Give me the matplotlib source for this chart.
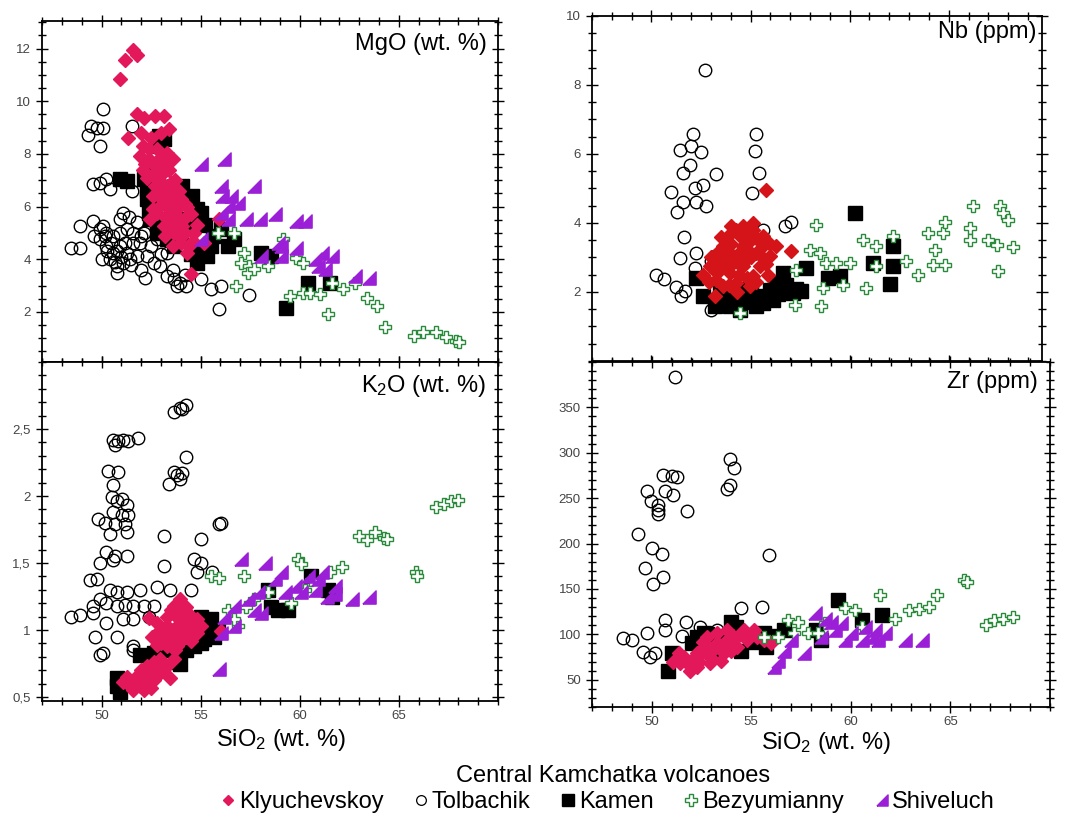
import numpy as np
import matplotlib.pyplot as plt
from matplotlib.lines import Line2D
from matplotlib.ticker import MultipleLocator, FixedLocator, FixedFormatter

plt.rcParams['font.family'] = ['Liberation Sans', 'DejaVu Sans']
plt.rcParams['mathtext.default'] = 'regular'

# ---- SiO2 vs MgO (wt. %) ----
mgo_kly = [(50.93, 10.86), (51.19, 11.56), (51.58, 11.94), (51.81, 11.77), (51.32, 8.61), (51.78, 9.50),
           (52.12, 9.37), (52.71, 9.43), (53.14, 9.43), (53.39, 8.93), (51.95, 7.92), (52.37, 7.79),
           (52.80, 8.17), (53.30, 8.04), (52.10, 8.30), (52.70, 7.54), (53.10, 7.28), (53.50, 6.90),
           (53.00, 6.78), (53.64, 6.52), (53.30, 6.02), (53.80, 5.89), (52.80, 5.77), (52.46, 5.51),
           (53.14, 5.26), (53.64, 5.00), (54.07, 5.26), (54.30, 5.64), (54.00, 4.63), (54.30, 4.25),
           (54.66, 5.00), (55.17, 4.63), (54.50, 3.43), (55.93, 5.51), (53.30, 6.78), (53.05, 6.27),
           (53.56, 6.27), (52.70, 6.78), (53.47, 5.64), (54.00, 6.27), (54.30, 6.00), (52.10, 7.40),
           (52.50, 8.60), (53.00, 8.80), (52.30, 7.10), (53.20, 7.70), (53.80, 5.40), (54.60, 4.70),
           (52.20, 7.60), (52.60, 7.20), (52.90, 7.00), (53.20, 6.50), (53.50, 6.10), (53.70, 5.70),
           (53.90, 5.50), (54.20, 5.00), (52.90, 6.00), (53.20, 5.60), (53.40, 5.30), (52.60, 6.40),
           (52.90, 6.60), (53.40, 7.40), (53.70, 7.00), (53.90, 6.60), (54.20, 6.10), (54.50, 5.70),
           (54.80, 5.30), (53.00, 7.90), (52.40, 8.20), (52.00, 8.80), (53.60, 7.80), (53.20, 4.90),
           (53.60, 4.50), (52.60, 5.90), (53.90, 4.90), (54.40, 4.50)]
mgo_tol = [(50.08, 9.69), (49.49, 9.05), (49.75, 8.99), (49.32, 8.70), (50.08, 8.99), (49.92, 8.30),
           (51.53, 9.05), (49.58, 6.84), (49.92, 6.90), (50.25, 7.03), (50.42, 6.65), (51.53, 6.59),
           (51.10, 5.77), (48.90, 5.26), (49.58, 5.45), (48.47, 4.44), (48.90, 4.44), (49.92, 5.14),
           (50.25, 5.01), (50.59, 4.88), (50.93, 5.01), (51.27, 5.14), (51.61, 5.01), (49.92, 4.76),
           (50.25, 4.50), (50.59, 4.25), (50.93, 4.50), (51.27, 4.25), (51.61, 4.63), (51.95, 4.63),
           (50.42, 4.00), (50.76, 3.74), (51.10, 3.87), (51.44, 4.00), (51.78, 4.12), (52.29, 4.12),
           (52.63, 3.87), (52.97, 3.74), (53.31, 3.37), (53.64, 3.24), (53.98, 3.11), (53.81, 2.99),
           (54.24, 2.99), (55.00, 3.24), (55.51, 2.86), (56.02, 2.99), (57.46, 2.63), (55.93, 2.13),
           (53.31, 4.25), (52.80, 4.76), (52.12, 5.01), (50.76, 3.49), (50.93, 5.51), (50.08, 5.26),
           (50.50, 4.60), (50.80, 4.30), (51.00, 4.10), (50.30, 4.30), (50.70, 3.90), (51.20, 4.60),
           (50.00, 4.00), (51.50, 3.80), (52.00, 3.60), (52.50, 4.50), (53.00, 4.20), (53.60, 3.60),
           (52.00, 4.90), (50.20, 4.90), (51.80, 5.40), (51.40, 5.60), (52.20, 3.30), (54.20, 3.40),
           (49.60, 4.90)]
mgo_kam = [(50.93, 7.03), (51.27, 6.97), (52.12, 7.03), (52.29, 6.27), (52.37, 5.77), (52.46, 5.51),
           (52.88, 8.68), (53.14, 8.55), (52.97, 8.30), (54.07, 6.78), (54.58, 6.40), (55.00, 5.77),
           (56.02, 5.14), (56.36, 4.50), (56.69, 4.76), (55.00, 4.25), (55.34, 4.12), (54.83, 3.87),
           (58.05, 4.25), (58.56, 4.12), (60.42, 3.11), (61.53, 3.11), (59.32, 2.16), (52.80, 5.01),
           (53.31, 4.76), (53.64, 4.50), (52.29, 6.65), (54.15, 5.51), (54.66, 5.39), (54.00, 5.00),
           (52.80, 5.39), (52.40, 6.90), (52.60, 6.00), (53.30, 6.20), (54.30, 6.30), (54.80, 5.90),
           (55.20, 5.30), (55.60, 4.90), (54.50, 4.20), (55.50, 4.50), (52.60, 7.40)]
mgo_bez = [(55.85, 5.01), (56.69, 5.01), (57.20, 4.25), (57.03, 3.87), (57.46, 3.74), (57.37, 3.49),
           (57.71, 3.62), (58.39, 3.74), (59.15, 4.76), (56.78, 2.99), (59.49, 2.61), (60.17, 2.73),
           (60.51, 2.73), (61.02, 2.67), (59.83, 4.06), (60.17, 3.87), (61.61, 3.11), (62.20, 2.86),
           (62.80, 3.11), (61.44, 1.91), (63.39, 2.54), (63.90, 2.23), (64.32, 1.41), (65.76, 1.09),
           (66.86, 1.22), (67.37, 1.03), (67.88, 0.90), (68.05, 0.84), (66.19, 1.22)]
mgo_shi = [(55.00, 7.60), (56.19, 7.79), (57.71, 6.78), (56.02, 6.78), (56.10, 6.40), (56.53, 6.40),
           (56.86, 6.15), (56.36, 6.02), (56.02, 5.77), (56.36, 5.51), (57.29, 5.51), (57.97, 5.51),
           (58.73, 5.70), (59.83, 5.45), (60.25, 5.45), (55.00, 4.76), (58.05, 4.12), (59.07, 4.50),
           (59.07, 4.12), (59.83, 4.44), (60.76, 4.00), (61.10, 4.25), (61.61, 4.12), (60.93, 3.74),
           (61.27, 3.62), (62.80, 3.37), (63.47, 3.30), (58.90, 4.63)]

# ---- SiO2 vs Nb (ppm) ----
nb_kly = [(55.76, 4.96), (57.06, 3.20), (53.19, 1.87), (55.88, 2.50), (55.13, 4.00), (54.29, 3.80),
          (53.78, 3.51), (54.79, 3.70), (55.63, 3.61), (56.30, 3.32), (53.28, 2.93), (53.95, 3.13),
          (54.62, 3.32), (55.29, 3.13), (55.97, 3.03), (52.61, 2.50), (53.28, 2.36), (53.95, 2.55),
          (54.62, 2.74), (55.13, 2.45), (53.61, 2.16), (54.29, 2.26), (54.96, 2.16), (52.94, 2.74),
          (55.46, 2.74), (54.12, 2.84), (54.79, 2.93), (54.45, 3.61), (55.63, 3.32), (53.61, 3.32),
          (54.00, 3.90), (55.00, 3.50), (53.40, 2.60), (54.40, 2.50), (55.80, 2.80), (53.00, 3.00),
          (53.50, 3.60), (54.00, 3.40), (54.50, 3.20), (55.00, 3.00), (55.40, 3.50), (54.20, 3.00),
          (53.80, 2.70), (54.30, 2.00), (53.90, 2.20), (54.80, 2.40), (55.30, 2.30), (53.20, 2.60),
          (52.90, 2.30), (54.60, 3.90), (55.10, 3.80), (54.00, 3.70), (53.60, 2.90), (54.90, 3.20),
          (55.60, 3.00), (56.00, 3.40), (53.40, 3.20), (54.40, 2.80)]
nb_tol = [(52.69, 8.42), (52.10, 6.57), (51.43, 6.12), (52.02, 6.22), (52.52, 6.07), (51.93, 5.69),
          (51.60, 5.46), (53.24, 5.42), (52.18, 5.01), (52.61, 5.11), (51.01, 4.89), (51.60, 4.62),
          (52.27, 4.62), (52.77, 4.48), (51.31, 4.31), (51.63, 3.58), (51.43, 2.98), (52.27, 3.13),
          (52.18, 2.69), (50.22, 2.50), (50.62, 2.37), (51.26, 2.14), (51.68, 2.02), (51.51, 1.87),
          (53.03, 1.49), (55.29, 6.57), (55.21, 6.10), (55.43, 5.46), (55.09, 4.88), (56.72, 3.90),
          (57.06, 4.04), (55.63, 3.80), (53.03, 2.89), (53.19, 3.03)]
nb_kam = [(52.27, 2.40), (52.61, 1.87), (53.95, 1.58), (54.45, 1.49), (54.12, 1.78), (55.29, 1.87),
          (55.63, 1.68), (56.13, 1.78), (56.64, 2.55), (56.64, 2.07), (57.14, 1.97), (57.56, 2.02),
          (57.82, 2.69), (58.91, 2.40), (59.50, 2.47), (60.25, 4.29), (61.18, 2.84), (62.18, 3.34),
          (62.18, 2.76), (62.02, 2.23), (54.79, 1.97), (55.97, 2.07), (53.45, 1.97), (56.30, 2.26),
          (53.60, 1.70), (54.00, 1.90), (54.80, 1.70), (55.30, 1.60), (55.90, 1.85), (56.40, 1.95),
          (54.40, 2.10), (55.00, 2.00), (56.80, 2.20), (57.30, 2.10), (53.20, 1.60)]
nb_bez = [(58.32, 3.95), (57.98, 3.22), (58.49, 3.13), (58.82, 2.84), (59.33, 2.84), (60.00, 2.84),
          (57.23, 1.63), (58.57, 1.58), (58.66, 2.11), (59.66, 2.21), (60.67, 3.51), (61.34, 3.32),
          (62.18, 3.61), (60.84, 2.11), (61.34, 2.74), (62.86, 2.89), (63.45, 2.50), (63.95, 3.71),
          (64.71, 3.71), (64.79, 4.02), (64.29, 3.22), (64.20, 2.79), (64.79, 2.79), (66.05, 3.85),
          (66.05, 3.51), (66.22, 4.48), (67.56, 4.48), (67.73, 4.29), (67.98, 4.09), (67.00, 3.51),
          (67.42, 3.37), (68.24, 3.30), (67.48, 2.60), (57.31, 2.64), (54.45, 1.39)]

# ---- SiO2 vs K2O (wt. %) ----
k2o_kly = [(53.98, 1.23), (53.64, 1.18), (54.24, 1.17), (53.31, 1.10), (53.81, 1.10), (54.24, 1.10),
           (54.83, 1.08), (52.80, 1.05), (53.31, 1.03), (53.81, 1.03), (54.24, 1.03), (55.00, 1.03),
           (52.54, 0.95), (53.14, 0.95), (53.64, 0.95), (54.24, 0.95), (54.83, 0.98), (53.31, 0.88),
           (53.81, 0.88), (52.80, 0.89), (52.37, 1.09), (56.02, 0.99), (51.27, 0.65), (51.61, 0.63),
           (51.95, 0.68), (52.29, 0.73), (52.63, 0.76), (52.97, 0.78), (51.61, 0.55), (51.95, 0.58),
           (52.29, 0.60), (52.63, 0.63), (52.97, 0.68), (53.31, 0.73), (53.47, 0.64), (51.10, 0.61),
           (52.12, 0.55), (52.71, 0.71), (53.64, 0.78), (53.50, 1.15), (54.00, 1.15), (53.00, 1.00),
           (53.50, 1.00), (54.00, 1.00), (54.50, 1.00), (53.30, 0.92), (54.00, 0.92), (54.50, 0.92),
           (53.00, 0.90), (53.70, 0.85), (54.40, 1.12), (54.70, 1.05), (52.80, 0.98), (53.90, 1.08),
           (51.80, 0.62), (52.10, 0.66), (52.40, 0.68), (52.50, 0.57), (51.40, 0.59), (52.80, 0.72),
           (53.10, 0.70), (52.00, 0.70), (51.70, 0.60)]
k2o_tol = [(53.64, 2.63), (53.98, 2.66), (54.24, 2.68), (54.07, 2.65), (54.24, 2.29), (53.39, 2.09),
           (53.81, 2.16), (54.07, 2.17), (53.98, 2.13), (53.64, 2.18), (50.59, 2.42), (50.85, 2.41),
           (51.10, 2.42), (51.36, 2.41), (50.68, 2.38), (51.86, 2.43), (50.34, 2.19), (50.85, 2.18),
           (50.59, 2.08), (50.51, 1.99), (50.76, 1.96), (51.02, 1.98), (51.27, 1.93), (50.59, 1.88),
           (51.02, 1.86), (51.36, 1.86), (49.83, 1.83), (50.17, 1.80), (50.68, 1.79), (51.19, 1.79),
           (50.42, 1.72), (51.27, 1.73), (56.02, 1.80), (55.93, 1.79), (53.17, 1.70), (55.00, 1.68),
           (50.25, 1.58), (50.68, 1.55), (51.27, 1.55), (49.92, 1.50), (50.59, 1.52), (53.14, 1.48),
           (54.66, 1.53), (55.00, 1.50), (54.83, 1.43), (55.59, 1.43), (49.41, 1.37), (49.75, 1.38),
           (50.42, 1.30), (50.76, 1.28), (51.27, 1.28), (51.95, 1.30), (52.80, 1.32), (53.47, 1.30),
           (54.49, 1.30), (48.47, 1.10), (48.90, 1.11), (49.58, 1.18), (49.92, 1.23), (50.25, 1.20),
           (50.76, 1.18), (51.19, 1.19), (51.61, 1.18), (52.12, 1.18), (52.63, 1.18), (50.25, 1.05),
           (51.10, 1.08), (51.61, 1.08), (49.66, 0.95), (50.76, 0.95), (51.61, 0.88), (51.61, 0.85),
           (49.92, 0.81), (50.08, 0.83), (49.58, 1.13), (52.37, 1.10)]
k2o_kam = [(50.76, 0.58), (50.93, 0.54), (50.76, 0.64), (51.95, 0.81), (52.63, 0.83), (53.31, 0.85),
           (53.81, 0.76), (53.98, 0.75), (54.24, 0.85), (54.66, 0.88), (55.00, 0.90), (55.34, 1.03),
           (55.00, 1.10), (55.51, 1.08), (55.17, 0.93), (55.68, 0.95), (58.39, 1.30), (58.56, 1.17),
           (58.90, 1.15), (59.41, 1.15), (60.59, 1.40), (61.61, 1.25), (61.44, 1.30), (55.85, 1.00)]
k2o_bez = [(55.51, 1.40), (55.93, 1.39), (56.36, 1.15), (56.86, 1.03), (57.20, 1.40), (57.29, 1.17),
           (57.71, 1.23), (58.39, 1.28), (59.58, 1.20), (59.92, 1.53), (60.08, 1.49), (60.25, 1.30),
           (61.53, 1.43), (62.12, 1.47), (60.59, 1.37), (62.97, 1.70), (63.39, 1.67), (63.81, 1.73),
           (64.24, 1.69), (64.41, 1.68), (65.85, 1.43), (65.93, 1.40), (66.86, 1.92), (67.29, 1.94),
           (67.63, 1.96), (67.97, 1.97), (56.69, 1.08)]
k2o_shi = [(57.03, 1.53), (58.22, 1.50), (55.93, 0.71), (56.02, 0.98), (56.19, 1.10), (56.69, 1.18),
           (57.37, 1.23), (57.88, 1.28), (58.05, 1.13), (58.73, 1.38), (59.07, 1.43), (59.24, 1.28),
           (59.75, 1.33), (60.08, 1.28), (60.42, 1.40), (60.76, 1.30), (60.93, 1.38), (61.10, 1.43),
           (61.36, 1.25), (61.78, 1.33), (61.78, 1.27), (62.63, 1.23), (63.47, 1.25), (56.69, 1.03),
           (57.71, 1.15)]

# ---- SiO2 vs Zr (ppm) ----
zr_kly = [(51.09, 70), (51.60, 75), (51.94, 60), (52.28, 79), (52.61, 86), (52.95, 79), (53.29, 90),
          (53.62, 79), (53.96, 94), (54.30, 97), (54.64, 105), (55.14, 105), (54.81, 94), (55.65, 94),
          (55.98, 90), (52.28, 64), (52.95, 68), (53.46, 71), (53.96, 82), (51.77, 68), (52.78, 97),
          (53.29, 101), (53.79, 105), (54.30, 86), (55.31, 97), (51.35, 79), (52.00, 72), (52.50, 78),
          (52.80, 85), (53.10, 84), (53.40, 88), (53.70, 92), (54.10, 98), (54.50, 100), (54.90, 99),
          (53.00, 74), (53.60, 86), (52.40, 70), (51.40, 68), (54.00, 88), (55.00, 100), (52.60, 92)]
zr_tol = [(51.18, 383), (53.95, 293), (54.15, 283), (53.95, 265), (53.78, 260), (50.55, 276),
          (51.01, 274), (51.26, 273), (50.67, 258), (49.75, 258), (49.95, 247), (51.09, 254),
          (50.34, 243), (50.34, 237), (50.34, 233), (51.77, 236), (49.33, 210), (50.00, 195),
          (50.50, 188), (49.66, 173), (50.59, 163), (50.05, 156), (55.89, 187), (48.54, 96),
          (49.00, 94), (49.78, 101), (49.58, 81), (49.92, 75), (50.17, 79), (50.67, 116),
          (50.67, 105), (51.74, 114), (51.52, 98), (52.45, 108), (54.47, 129), (55.56, 130),
          (53.28, 105)]
zr_kam = [(50.84, 60), (51.01, 79), (52.28, 97), (52.61, 101), (53.96, 114), (54.22, 108), (54.47, 82),
          (55.65, 101), (55.73, 86), (56.66, 105), (59.36, 138), (60.54, 116), (61.55, 121), (58.26, 105),
          (58.51, 94), (53.28, 82), (52.00, 90), (52.80, 100), (53.50, 95), (54.00, 100), (55.20, 92),
          (56.00, 98)]
zr_bez = [(55.65, 97), (56.83, 116), (57.34, 114), (57.84, 101), (58.35, 101), (58.68, 112), (59.70, 129),
          (60.20, 127), (60.54, 108), (61.47, 143), (62.23, 117), (62.90, 127), (63.41, 128), (63.91, 130),
          (64.33, 143), (65.68, 160), (65.85, 158), (66.78, 110), (67.20, 116), (67.62, 117), (68.13, 119),
          (57.17, 101), (56.32, 97)]
zr_shi = [(56.16, 64), (56.32, 71), (56.66, 82), (57.00, 94), (57.67, 79), (58.18, 123), (58.51, 97),
          (59.19, 105), (59.53, 112), (59.70, 94), (60.03, 101), (60.54, 94), (61.05, 97), (61.21, 105),
          (61.38, 94), (61.72, 101), (62.73, 94), (63.57, 94), (59.02, 114), (58.68, 117), (60.71, 108)]

# marker styles for the five volcanoes
pink = '#E2185B'
red = '#D41419'
purple = '#9B1FD6'
green = '#2A8A3C'
tri = [(-1, -1), (1, -1), (1, 1), (-1, -1)]

kly = dict(marker='D', ms=7, color=pink, mec=pink, ls='none')
tol = dict(marker='o', ms=9, mfc='none', mec='black', mew=1.0, ls='none')
kam = dict(marker='s', ms=10, color='black', ls='none')
bez = dict(marker='P', ms=9, mfc='white', mec=green, mew=1.0, ls='none')
shi = dict(marker=tri, ms=9.5, color=purple, mec=purple, ls='none')


def draw(ax, data, styles):
    for pts, st in zip(data, styles):
        p = np.array(pts).T
        ax.plot(p[0], p[1], **st)


def style_axes(ax, xmax, ylim, major, minor, labels, show_x):
    ax.set_xlim(47, xmax)
    ax.set_ylim(*ylim)
    ax.xaxis.set_major_locator(FixedLocator([50, 55, 60, 65]))
    ax.xaxis.set_minor_locator(MultipleLocator(1))
    ax.yaxis.set_major_locator(FixedLocator(major))
    ax.yaxis.set_major_formatter(FixedFormatter(labels))
    ax.yaxis.set_minor_locator(MultipleLocator(minor))
    ax.tick_params(which='both', direction='inout', top=True, right=True, width=1.0)
    ax.tick_params(which='major', length=9, labelsize=9.5, labelcolor='#444444')
    ax.tick_params(which='minor', length=6)
    ax.tick_params(axis='x', labelbottom=show_x, pad=2)
    for s in ax.spines.values():
        s.set_linewidth(1.3)


fig = plt.figure(figsize=(10.67, 8.18), dpi=100)
ax1 = fig.add_axes([0.0394, 0.5575, 0.4274, 0.4169])
ax2 = fig.add_axes([0.5548, 0.5587, 0.4217, 0.4218])
ax3 = fig.add_axes([0.0394, 0.1430, 0.4274, 0.4144])
ax4 = fig.add_axes([0.5548, 0.1357, 0.4292, 0.4218])

draw(ax1, [mgo_tol, mgo_kam, mgo_kly, mgo_bez, mgo_shi], [tol, kam, kly, bez, shi])
draw(ax2, [nb_tol, nb_kam, nb_kly, nb_bez], [tol, kam, dict(kly, color=red, mec=red), bez])
draw(ax3, [k2o_tol, k2o_kam, k2o_kly, k2o_bez, k2o_shi], [tol, kam, kly, bez, shi])
draw(ax4, [zr_tol, zr_kam, zr_kly, zr_bez, zr_shi], [tol, kam, kly, bez, shi])

style_axes(ax1, 70, (0.1, 13.05), [2, 4, 6, 8, 10, 12], 0.5, ['2', '4', '6', '8', '10', '12'], False)
style_axes(ax2, 69.7, (0, 10), [2, 4, 6, 8, 10], 0.5, ['2', '4', '6', '8', '10'], False)
style_axes(ax3, 70, (0.47, 3.0), [0.5, 1, 1.5, 2, 2.5], 0.1, ['0,5', '1', '1,5', '2', '2,5'], True)
style_axes(ax4, 70, (20, 400), [50, 100, 150, 200, 250, 300, 350], 10,
           ['50', '100', '150', '200', '250', '300', '350'], True)

# element names in the upper right corners
ax1.text(0.976, 0.915, 'MgO (wt. %)', transform=ax1.transAxes, ha='right', va='baseline', fontsize=17)
ax2.text(0.989, 0.936, 'Nb (ppm)', transform=ax2.transAxes, ha='right', va='baseline', fontsize=17)
ax3.text(0.974, 0.911, 'K$_2$O (wt. %)', transform=ax3.transAxes, ha='right', va='baseline', fontsize=17)
ax4.text(0.974, 0.925, 'Zr (ppm)', transform=ax4.transAxes, ha='right', va='baseline', fontsize=17)

fig.text(281 / 1067, 1 - 746 / 818, 'SiO$_2$ (wt. %)', ha='center', va='baseline', fontsize=17)
fig.text(826 / 1067, 1 - 749 / 818, 'SiO$_2$ (wt. %)', ha='center', va='baseline', fontsize=17)

fig.text(613 / 1067, 1 - 782 / 818, 'Central Kamchatka volcanoes', ha='center', va='baseline', fontsize=17)

handles = [
    Line2D([], [], marker='D', ms=5, color=pink, ls='none', label='Klyuchevskoy'),
    Line2D([], [], marker='o', ms=7, mfc='none', mec='black', mew=0.9, ls='none', label='Tolbachik'),
    Line2D([], [], marker='s', ms=8, color='black', ls='none', label='Kamen'),
    Line2D([], [], marker='P', ms=9, mfc='white', mec=green, mew=1.0, ls='none', label='Bezyumianny'),
    Line2D([], [], marker=tri, ms=8, color=purple, ls='none', label='Shiveluch'),
]
fig.legend(handles=handles, loc='lower center', bbox_to_anchor=(608 / 1067, 0.0), ncol=5,
           frameon=False, fontsize=17, handlelength=0.6, handletextpad=0.15,
           columnspacing=1.3, borderpad=0.1, borderaxespad=0.1)

fig.savefig('out.png', dpi=100)
